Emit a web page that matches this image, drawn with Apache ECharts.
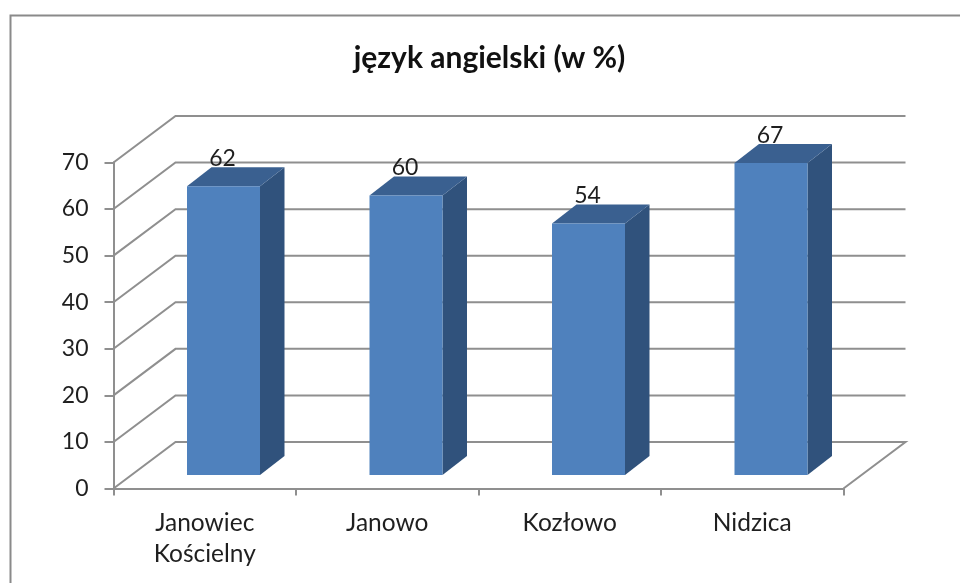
<!DOCTYPE html>
<html>
<head>
<meta charset="utf-8">
<style>html,body{margin:0;padding:0;background:#fff}#c{width:960px;height:583px}</style>
<script src="https://cdn.jsdelivr.net/npm/echarts@6/dist/echarts.min.js"></script>
</head>
<body>
<div id="c"></div>
<script>
const titleText = 'język angielski (w %)';
const categories = ['Janowiec\nKościelny', 'Janowo', 'Kozłowo', 'Nidzica'];
const values = [62, 60, 54, 67];
const yTicks = [0, 10, 20, 30, 40, 50, 60, 70];

const FONT = 'Lato, "Open Sans", sans-serif';
const TEXT = '#1f1f1f';
const GRID = '#8f8f8f';
const wallDx = 62, wallDy = -46.5;
const barDx = 18.75, barDy = -13.5;
const depthDx = 24.5, depthDy = -19;

const chart = echarts.init(document.getElementById('c'), null, {renderer: 'canvas'});
chart.setOption({
  animation: false,
  backgroundColor: '#ffffff',
  title: {
    text: titleText, left: 484.5, top: 38, textAlign: 'center',
    textStyle: {fontFamily: FONT, fontWeight: 'bold', fontSize: 30, color: '#111'}
  },
  graphic: [{
    type: 'rect', z: -10, silent: true,
    shape: {x: 10.5, y: 15.5, width: 1000, height: 700},
    style: {fill: '#fff', stroke: '#8a8a8a', lineWidth: 2}
  }],
  grid: {left: 113.5, right: 116.5, top: 162.5, bottom: 94.5, containLabel: false},
  xAxis: {
    type: 'category', data: categories, boundaryGap: true,
    axisLine: {show: true, lineStyle: {color: GRID, width: 2}},
    axisTick: {show: true, length: 7, lineStyle: {color: GRID, width: 2}},
    axisLabel: {fontFamily: FONT, fontSize: 24.5, color: TEXT, margin: 19, lineHeight: 31, interval: 0},
    splitLine: {show: false}
  },
  yAxis: {
    type: 'value', min: 0, max: 70, interval: 10,
    axisLine: {show: true, lineStyle: {color: GRID, width: 2}},
    axisTick: {show: true, length: 9, lineStyle: {color: GRID, width: 2}},
    axisLabel: {fontFamily: FONT, fontSize: 23, color: TEXT, margin: 25, padding: [7, 0, 0, 0]},
    splitLine: {show: false}
  },
  series: [
    {
      type: 'custom', coordinateSystem: 'cartesian2d', clip: false, z: 1, silent: true,
      data: yTicks.map(t => [0, t]),
      encode: {x: 0, y: 1},
      renderItem(params, api) {
        const cs = params.coordSys;
        const y = api.coord([0, api.value(1)])[1];
        const pts = [[cs.x, y], [cs.x + wallDx, y + wallDy], [cs.x + cs.width + wallDx, y + wallDy]];
        if (api.value(1) === 0) pts.push([cs.x + cs.width, y]);
        return {type: 'polyline', shape: {points: pts}, style: {stroke: GRID, fill: null, lineWidth: 2}};
      }
    },
    {
      type: 'custom', coordinateSystem: 'cartesian2d', clip: false, z: 3, silent: true,
      data: values.map((v, i) => [i, v]),
      encode: {x: 0, y: 1},
      renderItem(params, api) {
        const top = api.coord([api.value(0), api.value(1)]);
        const base = api.coord([api.value(0), 0]);
        const w = api.size([1, 0])[0] * 0.4;
        const x0 = top[0] - w / 2 + barDx, x1 = x0 + w;
        const yT = top[1] + barDy, yB = base[1] + barDy;
        return {
          type: 'group',
          children: [
            {type: 'polygon', shape: {points: [[x1, yT], [x1 + depthDx, yT + depthDy], [x1 + depthDx, yB + depthDy], [x1, yB]]},
              style: {fill: '#30527c'}},
            {type: 'polygon', shape: {points: [[x0, yT], [x0 + depthDx, yT + depthDy], [x1 + depthDx, yT + depthDy], [x1, yT]]},
              style: {fill: '#3a6090'}},
            {type: 'rect', shape: {x: x0, y: yT, width: w, height: yB - yT},
              style: {fill: '#4f81bd'}},
            {type: 'text', x: top[0] + barDx - 1, y: yT + depthDy + 3,
              style: {text: String(api.value(1)), font: '23px ' + FONT, fill: TEXT, align: 'center', verticalAlign: 'bottom'}}
          ]
        };
      }
    }
  ]
});
</script>
</body>
</html>
